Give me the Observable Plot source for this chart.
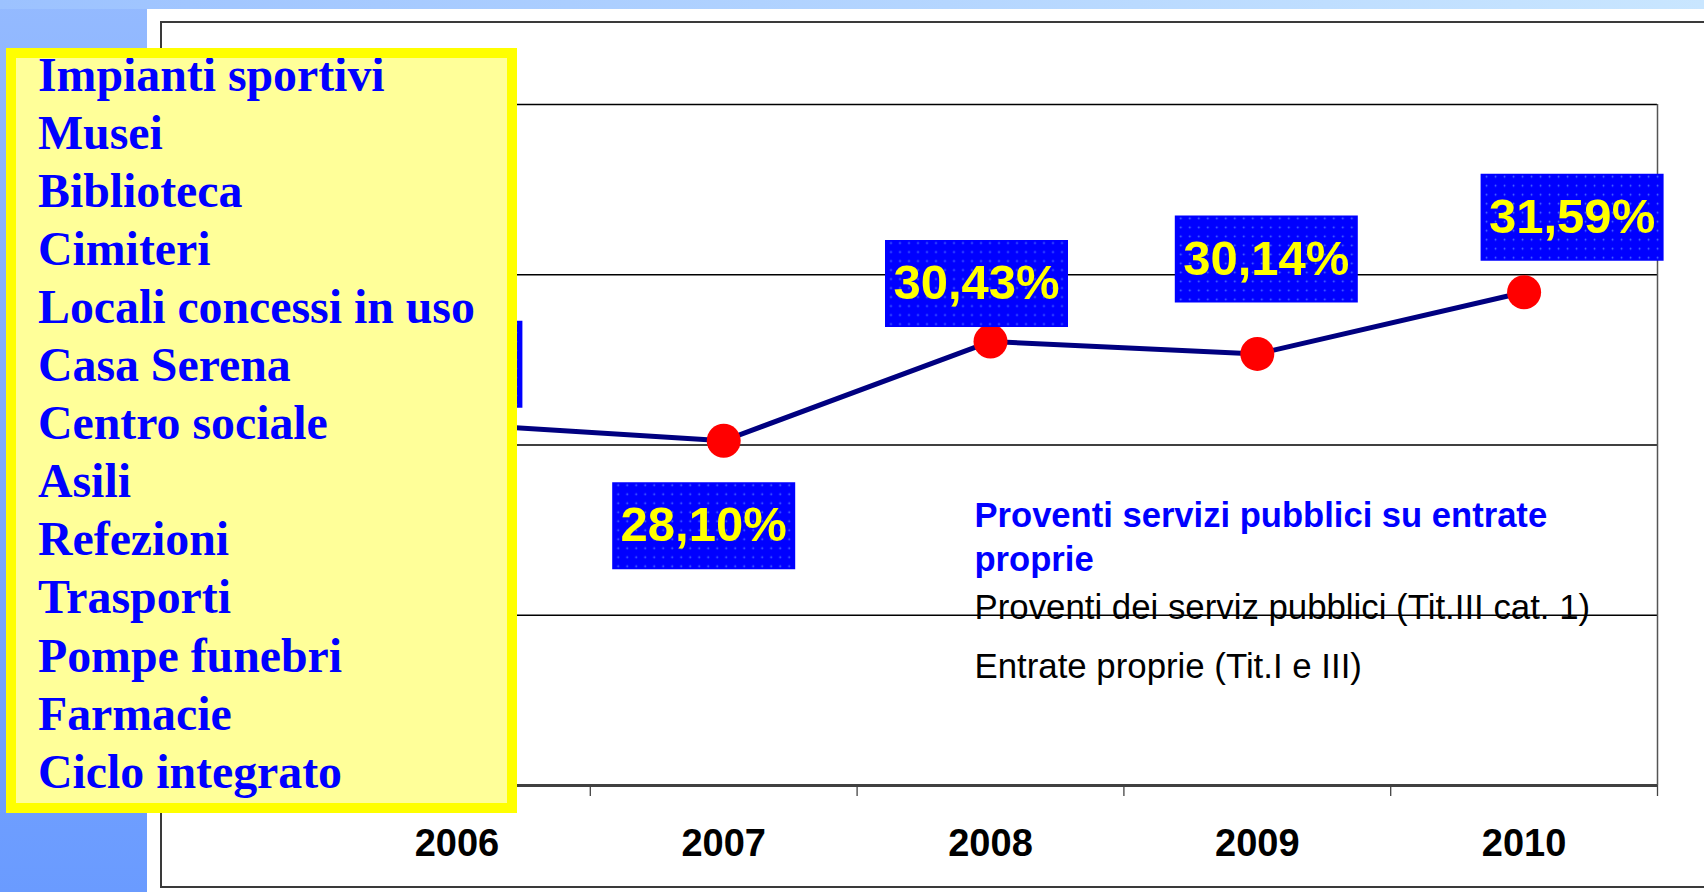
<!DOCTYPE html>
<html>
<head>
<meta charset="utf-8">
<script src="https://cdn.jsdelivr.net/npm/d3@7"></script>
<script src="https://cdn.jsdelivr.net/npm/@observablehq/plot@0.6"></script>
<style>
  html, body { margin: 0; padding: 0; overflow: hidden; }
  body { width: 1704px; height: 892px; position: relative; background: #ffffff; font-family: "Liberation Sans", Arial, sans-serif; }
  #leftStrip { position: absolute; left: 0; top: 0; width: 147px; height: 892px; background: linear-gradient(to bottom, #94baff, #6a9bff); z-index: 0; }
  #topStrip { position: absolute; left: 0; top: 0; width: 1704px; height: 9px; background: linear-gradient(to right, #9cc2ff, #c9e6ff); z-index: 0; }
  #frame { position: absolute; left: 160px; top: 21px; width: 1600px; height: 863px; border: 2px solid #3a3a3a; border-right: none; z-index: 0; }
  #chart { position: absolute; left: 0; top: 0; z-index: 1; }
  #services { position: absolute; left: 6px; top: 48px; width: 491px; height: 745px; background: #ffff99; border: 10px solid #ffff00; z-index: 2; overflow: hidden; }
  #services ul { list-style: none; margin: 0; padding: 0; position: absolute; left: 22px; top: -12.4px; }
  #services li { font-family: "Liberation Serif", "Times New Roman", serif; font-weight: bold; font-size: 47.8px; line-height: 58.1px; color: #0000ff; white-space: nowrap; }
</style>
</head>
<body>
<div id="leftStrip"></div>
<div id="topStrip"></div>
<div id="frame"></div>
<div id="chart"></div>
<div id="services"><ul></ul></div>
<script>
// ---- data ----
const years = [2006, 2007, 2008, 2009, 2010];
const ratios = [28.49, 28.10, 30.43, 30.14, 31.59];
const yTicks = [20, 24, 28, 32, 36];
const services = [
  "Impianti sportivi", "Musei", "Biblioteca", "Cimiteri", "Locali concessi in uso",
  "Casa Serena", "Centro sociale", "Asili", "Refezioni", "Trasporti",
  "Pompe funebri", "Farmacie", "Ciclo integrato"
];
const legendLabels = [
  "Proventi servizi pubblici su entrate\nproprie",
  "Proventi dei serviz pubblici (Tit.III cat. 1)",
  "Entrate proprie (Tit.I e III)"
];

// ---- presentation (label placement in pixels) ----
const labelOffset = {2006: [-26, -60], 2007: [-20, 85], 2008: [-14, -58], 2009: [9, -95], 2010: [48, -75]};
const boxW = 183, boxH = 87;

const data = years.map((year, i) => ({year, value: ratios[i]}));
const itLocale = d3.formatLocale({decimal: ",", thousands: ".", grouping: [3], currency: ["", "€"]});
const pct = v => itLocale.format(".2f")(v) + "%";
const boundaries = [years[0] - 0.5, ...years.map(y => y + 0.5)];

const labelBox = { draw(context) { context.rect(-boxW / 2, -boxH / 2, boxW, boxH); } };

const labelMarks = data.flatMap(d => {
  const [dx, dy] = labelOffset[d.year];
  return [
    Plot.dot([d], {x: "year", y: "value", symbol: labelBox, fill: "url(#bluedots)", stroke: "none", dx, dy}),
    Plot.text([d], {x: "year", y: "value", text: v => pct(v.value), fill: "#ffff00", fontSize: 49, fontWeight: "bold", dx, dy})
  ];
});

const plot = Plot.plot({
  width: 1704,
  height: 892,
  marginLeft: 323,
  marginRight: 47,
  marginTop: 104,
  marginBottom: 107,
  style: {background: "transparent", fontFamily: "'Liberation Sans', Arial, sans-serif", overflow: "visible"},
  x: {type: "linear", domain: [years[0] - 0.5, years[years.length - 1] + 0.5], label: null},
  y: {domain: [yTicks[0], yTicks[yTicks.length - 1]], axis: null, label: null},
  marks: [
    Plot.ruleY(yTicks.slice(1), {stroke: "#000", strokeWidth: 1.4}),
    Plot.ruleX([boundaries[boundaries.length - 1]], {stroke: "#555", strokeWidth: 1.5}),
    Plot.axisX(boundaries, {tickSize: 11, tickFormat: () => "", label: null, stroke: "#444", strokeWidth: 1.3}),
    Plot.axisX(years, {tickSize: 0, tickPadding: 44, tickFormat: d => String(d), label: null, fontSize: 38, fontWeight: "bold", fill: "#000"}),
    Plot.ruleY([yTicks[0]], {stroke: "#404040", strokeWidth: 3}),
    Plot.line(data, {x: "year", y: "value", stroke: "#000080", strokeWidth: 5}),
    Plot.dot(data, {x: "year", y: "value", r: 17, fill: "#ff0000", stroke: "none"}),
    ...labelMarks,
    Plot.text([legendLabels[0]], {frameAnchor: "top-left", textAnchor: "start", lineAnchor: "bottom", dx: 651, dy: 466, lineHeight: 1.26, fill: "#0000ff", fontWeight: "bold", fontSize: 34.6}),
    Plot.text([legendLabels[1]], {frameAnchor: "top-left", textAnchor: "start", lineAnchor: "bottom", dx: 651, dy: 514.3, fill: "#000", fontSize: 34.8}),
    Plot.text([legendLabels[2]], {frameAnchor: "top-left", textAnchor: "start", lineAnchor: "bottom", dx: 651, dy: 573.7, fill: "#000", fontSize: 34.8})
  ]
});

const ns = "http://www.w3.org/2000/svg";
const defs = document.createElementNS(ns, "defs");
defs.innerHTML = '<pattern id="bluedots" width="9" height="9" patternUnits="userSpaceOnUse">' +
  '<rect width="9" height="9" fill="#0000ff"></rect>' +
  '<circle cx="4.5" cy="4.5" r="0.9" fill="#4f70ff"></circle></pattern>';
plot.insertBefore(defs, plot.firstChild);
document.getElementById("chart").appendChild(plot);

const ul = document.querySelector("#services ul");
services.forEach(s => { const li = document.createElement("li"); li.textContent = s; ul.appendChild(li); });
</script>
</body>
</html>
